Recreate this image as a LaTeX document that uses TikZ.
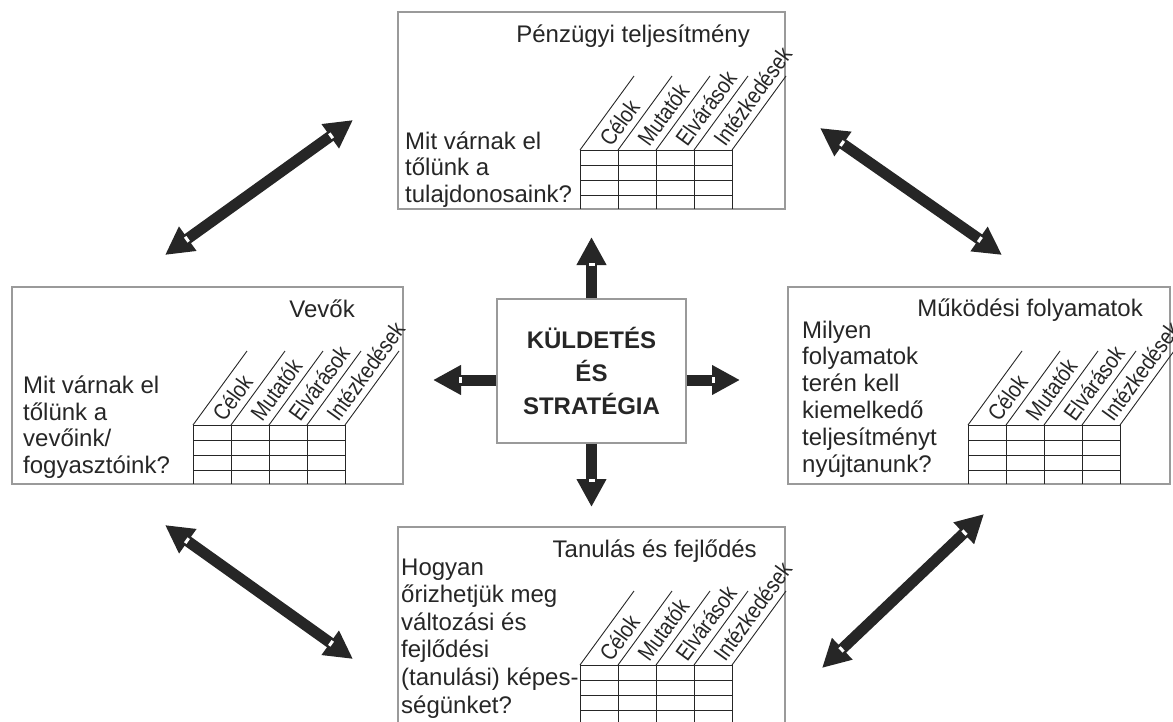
\documentclass[tikz,border=0pt]{standalone}
\usepackage{fontspec}
\setmainfont{Liberation Sans}
\newfontfamily\headfont[FakeStretch=0.85]{Liberation Sans}
\usetikzlibrary{arrows.meta, calc, decorations.markings}
\definecolor{Ink}     {HTML}{262626}
\definecolor{FrameGry}{HTML}{9a9a9a}
\tikzset{
  scorecard/.pic={
    \foreach \r in {0,15,30,45}
      \draw[tabline] (0,\r) -- (152,\r);
    \foreach \c in {0,38,76,114,152}{
      \draw[tabline] (\c,0) -- (\c,59);
      \draw[tabline] (\c,0) -- ++(54,-74);
    }
    \foreach \t [count=\i] in {Célok,Mutatók,Elvárások,Intézkedések}
      \node[colhead] (-h\i) at ({38*\i-14},-6) {\t};
  }
}
\begin{document}
\begin{tikzpicture}[
  x=1pt, y=-1pt,
  font=\fontsize{24}{26.5}\selectfont, text=Ink,
  >={Triangle[length=28pt,width=28pt]},
  every node/.style={inner sep=0pt},
  persp/.style   = {draw=FrameGry, line width=1.2pt, minimum height=197pt},
  mission/.style = {draw=FrameGry, line width=1.2pt, align=center,
                    minimum width=189pt, minimum height=144pt,
                    font=\bfseries\fontsize{24}{33}\selectfont},
  title/.style   = {anchor=base east},
  quest/.style   = {anchor=base west, align=left},
  tabline/.style = {draw=Ink, line width=0.9pt},
  colhead/.style = {font=\headfont\fontsize{23}{23}\selectfont, rotate=54,
                    anchor=west, inner sep=1pt},
  bigarrow/.style= {Ink, line width=11pt},
  notchend/.style= {decorate, decoration={markings,
      mark=at position -27pt with {\fill[white] (-1.5pt,-3pt) rectangle (1.5pt,3pt);}}},
  notchboth/.style={decorate, decoration={markings,
      mark=at position 27pt with {\fill[white] (-1.5pt,-3pt) rectangle (1.5pt,3pt);},
      mark=at position -27pt with {\fill[white] (-1.5pt,-3pt) rectangle (1.5pt,3pt);}}},
]
\useasboundingbox (0,0) rectangle (1173,721);
\clip (0,0) rectangle (1173,721);

% perspective boxes
\node[persp, minimum width=387pt] (fin)   at (591.5,110.5) {};
\node[persp, minimum width=391pt] (vevo)  at (207.5,385.5) {};
\node[persp, minimum width=382pt] (proc)  at (979,385.5)   {};
\node[persp, minimum width=387pt] (learn) at (591.5,625.5) {};
\node[mission] (core) at (591.5,371) {KÜLDETÉS\\ÉS\\STRATÉGIA};

\node[title] (fin-t)   at (750,42)   {Pénzügyi teljesítmény};
\node[title] (vevo-t)  at (355,317)  {Vevők};
\node[title] (proc-t)  at (1143,316) {Működési folyamatok};
\node[title] (learn-t) at (757,557)  {Tanulás és fejlődés};

% questions, placed by the baseline of their last line
\node[quest] (fin-q)  at (405,202) {Mit várnak el\\tőlünk a\\tulajdonosaink?};
\node[quest] (vevo-q) at (23,473)  {Mit várnak el\\tőlünk a\\vevőink/\\fogyasztóink?};
\node[quest, font=\fontsize{24}{26.8}\selectfont] (proc-q) at (802,472)
      {Milyen\\folyamatok\\terén kell\\kiemelkedő\\teljesítményt\\nyújtanunk?};
\node[quest, font=\fontsize{24}{27.6}\selectfont] (learn-q) at (401,713)
      {Hogyan\\őrizhetjük meg\\változási és\\fejlődési\\(tanulási) képes-\\ségünket?};

% tables
\pic (fin-s)   at (580,150) {scorecard};
\pic (vevo-s)  at (193,425) {scorecard};
\pic (proc-s)  at (968,425) {scorecard};
\pic (learn-s) at (580,665) {scorecard};

% arrows out of the centre
\coordinate (core-n) at (591.5,237);
\coordinate (core-s) at (591.5,507);
\coordinate (core-e) at (740,380);
\coordinate (core-w) at (433,380);
\draw[bigarrow,->] (core.north) -- (core-n);
\draw[bigarrow,->] (core.south) -- (core-s);
\draw[bigarrow,->] (core.east |- core-e) -- (core-e);
\draw[bigarrow,->] (core.west |- core-w) -- (core-w);
\path[notchend] (core.north) -- (core-n);
\path[notchend] (core.south) -- (core-s);
\path[notchend] (core.east |- core-e) -- (core-e);
\path[notchend] (core.west |- core-w) -- (core-w);

% arrows between the perspectives
\coordinate (tl-a) at (165,255);  \coordinate (tl-b) at (353,120);
\coordinate (tr-a) at (820,128);  \coordinate (tr-b) at (1002,255);
\coordinate (bl-a) at (165,525);  \coordinate (bl-b) at (353,659);
\coordinate (br-a) at (822,668);  \coordinate (br-b) at (984,514);
\foreach \a/\b in {tl-a/tl-b, tr-a/tr-b, bl-a/bl-b, br-a/br-b}{
  \draw[bigarrow,<->] (\a) -- (\b);
  \path[notchboth] (\a) -- (\b);
}
\end{tikzpicture}
\end{document}
